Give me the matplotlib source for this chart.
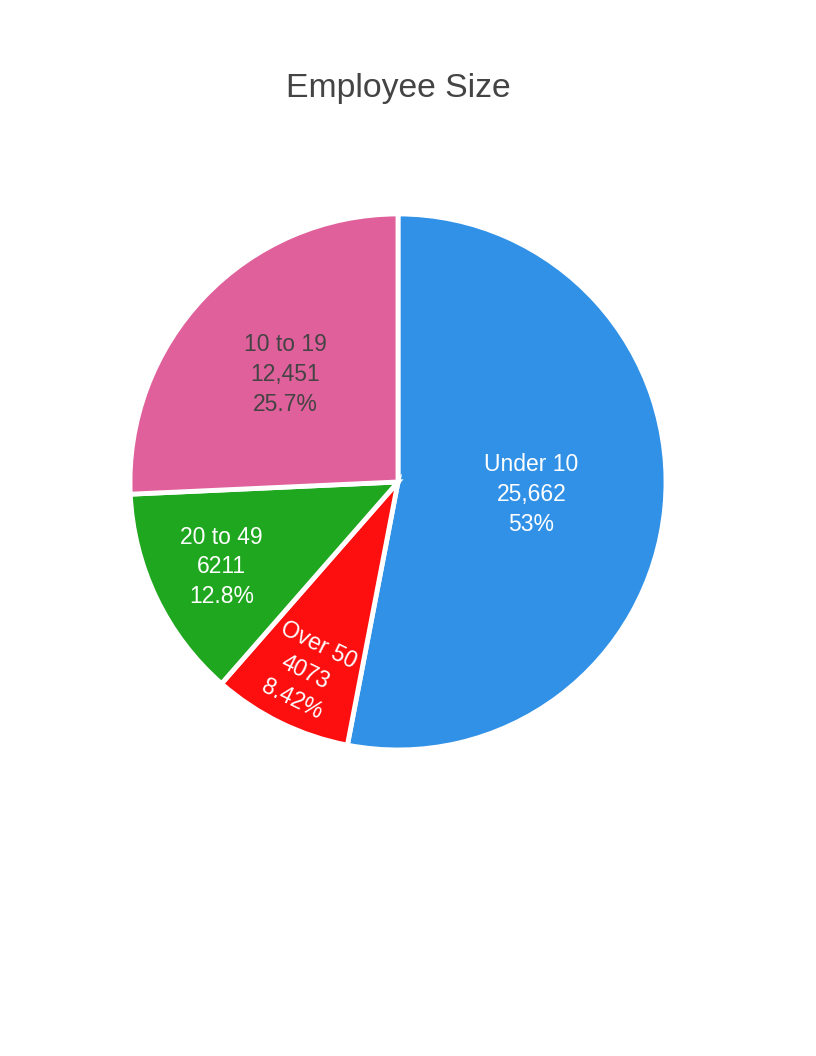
import numpy as np
import matplotlib.pyplot as plt

plt.rcParams["font.family"] = ["Liberation Sans", "DejaVu Sans"]

# datos del gráfico (orden en el sentido de las agujas del reloj desde arriba)
categorias = ["Under 10", "Over 50", "20 to 49", "10 to 19"]
valores = [25662, 4073, 6211, 12451]
colores = ["#3091e6", "#fe0f0f", "#1fa71f", "#e0609b"]
color_texto = ["white", "white", "white", "#444444"]
distancia_texto = [0.50, 0.79, 0.73, 0.58]
girar_texto = [False, True, False, False]


def formato_valor(v):
    return f"{v:,}" if v >= 10000 else str(v)


fig = plt.figure(figsize=(8.16, 10.56), dpi=100)
fig.text(0.4877, 1 - 89 / 1056, "Employee Size", ha="center", va="center",
         fontsize=24.3, color="#444444")

ax = fig.add_axes([0.4877 - 0.3284, 0.5436 - 0.2538, 0.6569, 0.5076])
cunas, _ = ax.pie(valores, colors=colores, startangle=90, counterclock=False,
                  radius=1, wedgeprops=dict(edgecolor="white", linewidth=3.5))

total = sum(valores)
for cuna, cat, v, col, d, girar in zip(cunas, categorias, valores, color_texto,
                                      distancia_texto, girar_texto):
    ang = (cuna.theta1 + cuna.theta2) / 2
    x = d * np.cos(np.radians(ang))
    y = d * np.sin(np.radians(ang))
    rot = ang + 90 if girar else 0
    pct = 100 * v / total
    etiqueta = f"{cat}\n{formato_valor(v)}\n{pct:.3g}%"
    ax.text(x, y, etiqueta, ha="center", va="center", color=col,
            fontsize=16.5, rotation=rot, rotation_mode="anchor",
            linespacing=1.38, multialignment="center")

ax.set_xlim(-1, 1)
ax.set_ylim(-1, 1)
ax.axis("off")

fig.savefig("out.png", dpi=100)
